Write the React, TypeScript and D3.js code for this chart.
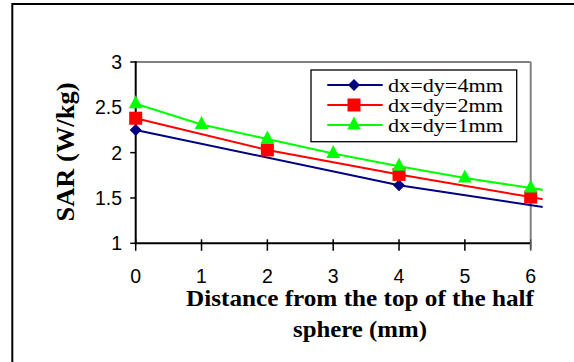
import React from "react";
import * as d3 from "d3";

const W = 574;
const H = 362;

const xTicks = [0, 1, 2, 3, 4, 5, 6];
const yTicks = [1, 1.5, 2, 2.5, 3];
const yTickLabels = ["1", "1.5", "2", "2.5", "3"];

const seriesNames = ["dx=dy=4mm", "dx=dy=2mm", "dx=dy=1mm"];
const seriesColors = ["#000080", "#FF0000", "#00FF00"];
const seriesShapes = ["diamond", "square", "triangle"];

// sampled positions (mm) and SAR values (W/kg)
const x4mm = [0, 4, 8];
const sar4mm = [2.25, 1.64, 1.2];
const x2mm = [0, 2, 4, 6, 8];
const sar2mm = [2.38, 2.03, 1.76, 1.51, 1.26];
const x1mm = [0, 1, 2, 3, 4, 5, 6, 7];
const sar1mm = [2.54, 2.31, 2.15, 1.99, 1.85, 1.72, 1.61, 1.5];

const seriesX = [x4mm, x2mm, x1mm];
const seriesY = [sar4mm, sar2mm, sar1mm];

const left = 135.7;
const right = 530.7;
const top = 62;
const bottom = 243.3;

export default function App() {
  const x = d3.scaleLinear().domain([0, 6]).range([left, right]);
  const y = d3.scaleLinear().domain([1, 3]).range([bottom, top]);
  const line = d3
    .line<[number, number]>()
    .x((d) => x(d[0]))
    .y((d) => y(d[1]));

  const marker = (shape: string, cx: number, cy: number, color: string, key: string) => {
    if (shape === "diamond") {
      const r = 6;
      return (
        <path key={key} d={`M${cx},${cy - r}L${cx + r},${cy}L${cx},${cy + r}L${cx - r},${cy}Z`} fill={color} />
      );
    }
    if (shape === "square") {
      const s = 13;
      return <rect key={key} x={cx - s / 2} y={cy - s / 2} width={s} height={s} fill={color} />;
    }
    const hw = 6.8;
    return (
      <path
        key={key}
        d={`M${cx},${cy - 8.5}L${cx + hw},${cy + 4.5}L${cx - hw},${cy + 4.5}Z`}
        fill={color}
      />
    );
  };

  const serif = "'Liberation Serif', 'Times New Roman', serif";
  const sans = "'Liberation Sans', Arial, sans-serif";

  return (
    <svg
      width={W}
      height={H}
      style={{ position: "absolute", left: 0, top: 0, background: "#fff" }}
    >
      <defs>
        <clipPath id="lineclip">
          <rect x={left - 2} y={0} width={542.7 - left + 2} height={H} />
        </clipPath>
        <clipPath id="markclip">
          <rect x={left - 10} y={0} width={right - left + 20} height={H} />
        </clipPath>
      </defs>
      <rect x={0} y={0} width={W} height={H} fill="#fff" />
      {/* outer frame */}
      <rect x={12.3} y={4} width={700} height={500} fill="none" stroke="#000" strokeWidth={2} />

      {/* plot frame (gray top/right) */}
      <line x1={left} y1={top} x2={right} y2={top} stroke="#808080" strokeWidth={2} />
      <line x1={right} y1={top} x2={right} y2={bottom + 6} stroke="#808080" strokeWidth={2} />

      {/* axes */}
      <line x1={left} y1={top - 1} x2={left} y2={bottom + 1} stroke="#000" strokeWidth={2} />
      <line x1={left} y1={bottom} x2={right} y2={bottom} stroke="#000" strokeWidth={2} />
      {yTicks.map((t) => (
        <line key={"yt" + t} x1={left - 5.5} y1={y(t)} x2={left} y2={y(t)} stroke="#000" strokeWidth={1.5} />
      ))}
      {xTicks.map((t) => (
        <line
          key={"xt" + t}
          x1={x(t)}
          y1={bottom - 4}
          x2={x(t)}
          y2={bottom + 7.5}
          stroke={t === 6 ? "#555" : "#000"}
          strokeWidth={1.5}
        />
      ))}

      {/* tick labels */}
      {yTicks.map((t, i) => (
        <text
          key={"yl" + t}
          x={122}
          y={y(t)}
          dy="0.36em"
          textAnchor="end"
          fontFamily={sans}
          fontSize={19.5}
          fill="#000"
        >
          {yTickLabels[i]}
        </text>
      ))}
      {xTicks.map((t) => (
        <text
          key={"xl" + t}
          x={x(t)}
          y={282.7}
          textAnchor="middle"
          fontFamily={sans}
          fontSize={19.5}
          fill="#000"
        >
          {String(t)}
        </text>
      ))}

      {/* series lines */}
      <g clipPath="url(#lineclip)">
        {seriesX.map((xs, i) => (
          <path
            key={"ln" + i}
            d={line(xs.map((v, j) => [v, seriesY[i][j]] as [number, number])) || ""}
            fill="none"
            stroke={seriesColors[i]}
            strokeWidth={2}
          />
        ))}
      </g>
      <g clipPath="url(#markclip)">
        {seriesX.map((xs, i) =>
          xs
            .filter((v) => v <= 6)
            .map((v, j) => marker(seriesShapes[i], x(v), y(seriesY[i][j]), seriesColors[i], `m${i}-${j}`))
        )}
      </g>

      {/* legend */}
      <rect x={311} y={70} width={205.7} height={71.7} fill="#fff" stroke="#000" strokeWidth={1.3} />
      {seriesNames.map((name, i) => {
        const ly = 85 + i * 20;
        return (
          <g key={"lg" + i}>
            <line x1={327.3} y1={ly} x2={382.7} y2={ly} stroke={seriesColors[i]} strokeWidth={2} />
            {marker(seriesShapes[i], 354, ly, seriesColors[i], "lm" + i)}
            <text
              x={388}
              y={ly + 6.5}
              fontFamily={serif}
              fontSize={19.5}
              textLength={115}
              lengthAdjust="spacingAndGlyphs"
              fill="#000"
            >
              {name}
            </text>
          </g>
        );
      })}

      {/* axis titles */}
      <text
        transform="translate(73.5,152) rotate(-90)"
        textAnchor="middle"
        fontFamily={serif}
        fontWeight="bold"
        fontSize={25}
        textLength={139}
        lengthAdjust="spacingAndGlyphs"
        fill="#000"
      >
        SAR (W/kg)
      </text>
      <text
        x={360}
        y={305.5}
        textAnchor="middle"
        fontFamily={serif}
        fontWeight="bold"
        fontSize={24}
        textLength={348}
        lengthAdjust="spacingAndGlyphs"
        fill="#000"
      >
        Distance from the top of the half
      </text>
      <text
        x={360}
        y={336.5}
        textAnchor="middle"
        fontFamily={serif}
        fontWeight="bold"
        fontSize={24}
        textLength={134}
        lengthAdjust="spacingAndGlyphs"
        fill="#000"
      >
        sphere (mm)
      </text>
    </svg>
  );
}
